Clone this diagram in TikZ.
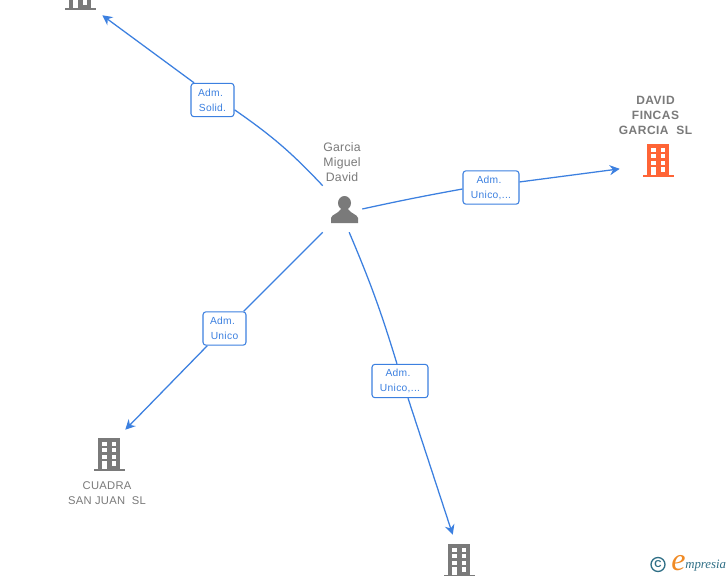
\documentclass[tikz,border=0pt]{standalone}
\usepackage{fontspec}
\setmainfont{Liberation Sans}
\newfontfamily\logofont{Liberation Serif}
\usetikzlibrary{arrows.meta}
\definecolor{linkblue}{HTML}{3C80E0}
\definecolor{namegrey}{HTML}{7A7A7A}
\definecolor{iconorange}{HTML}{FF6436}
\definecolor{logoteal}{HTML}{2F6F86}
\definecolor{logoorange}{HTML}{F08A24}
\tikzset{
	link/.style = {draw=linkblue, line width=0.95pt},
	arrowlink/.style = {link, -{Stealth[length=7.5pt,width=7.5pt,inset=2.5pt]}},
	adm/.style = {draw=linkblue, fill=white, rounded corners=2.2pt, line width=0.8pt, align=center, text=linkblue, font=\fontsize{7.7}{11.2}\selectfont\addfontfeatures{LetterSpace=3}, inner sep=0pt, minimum height=25pt},
	title/.style = {align=center, text=namegrey, font=\fontsize{9.2}{11.2}\selectfont\addfontfeatures{LetterSpace=2}, inner sep=0pt},
	spot/.style 2 args = {rectangle, minimum width=#1, minimum height=#2, inner sep=0pt}
}
% building glyph, centred on the current shift
\newcommand{\bldg}[1]{
	\fill[#1] (-11,-16) rectangle (11,15);
	\fill[#1] (-15,15) rectangle (16,17);
	\foreach \y in {-12,-6,1} {
		\fill[white] (-7,\y) rectangle (-2,\y+4);
		\fill[white] (3,\y) rectangle (7,\y+4);
	}
	\fill[white] (-7,7) rectangle (-2,15);
	\fill[white] (3,7) rectangle (7,12);
}
\begin{document}
\begin{tikzpicture}[x=0.75pt,y=-0.75pt]
	\clip (0,0) rectangle (728,575);
	\fill[white] (0,0) rectangle (728,575);

	% nodes
	\node[spot={29.25pt}{34.5pt}] (garcia) at (342.5,209) {};
	\node[spot={33pt}{33pt}] (top) at (80,-7) {};
	\node[spot={57pt}{33pt}] (fincas) at (658,160) {};
	\node[spot={24pt}{36pt}] (cuadra) at (109,454) {};
	\node[spot={9pt}{37.5pt}] (bottom) at (459,560) {};

	% icons
	\begin{scope}[shift={(top.center)}] \bldg{namegrey} \end{scope}
	\begin{scope}[shift={(fincas.center)}] \bldg{iconorange} \end{scope}
	\begin{scope}[shift={(cuadra.center)}] \bldg{namegrey} \end{scope}
	\begin{scope}[shift={(bottom.center)}] \bldg{namegrey} \end{scope}
	\fill[namegrey] (344.5,203) ellipse (6.5 and 7);
	\fill[namegrey] (331,223) -- (331,218) .. controls (332,214) and (338,214) .. (341,209)
		-- (348,209) .. controls (351,214) and (357,214) .. (358,218) -- (358,223) -- cycle;

	% texts
	\node[title] (garcianame) at (342,162) {Garcia\\Miguel\\David};
	\node[title,font=\fontsize{9}{11.2}\bfseries\selectfont\addfontfeatures{LetterSpace=4}] (fincasname) at (655.5,115) {DAVID\\FINCAS\\GARCIA\ \ SL};
	\node[title,font=\fontsize{8.4}{11.2}\selectfont\addfontfeatures{LetterSpace=2.5}] (cuadraname) at (107,493) {CUADRA\\SAN JUAN\ \ SL};

	% relation boxes
	\node[adm,minimum width=32.25pt] (admsolid) at (212.5,100) {Adm.\kern3pt\\Solid.};
	\node[adm,minimum width=42pt] (admfincas) at (491,187.5) {Adm.\kern3pt\\Unico,...};
	\node[adm,minimum width=32.25pt] (admcuadra) at (224.5,328.5) {Adm.\kern3pt\\Unico};
	\node[adm,minimum width=42pt] (admbottom) at (400,381) {Adm.\kern3pt\\Unico,...};

	% edges
	\draw[link] (garcia.north west) to[bend right=6] (admsolid.-24);
	\draw[arrowlink] (admsolid.137) -- (top.south east);
	\draw[link] (garcia.east) to[bend left=1] (admfincas.183);
	\draw[arrowlink] (admfincas.11) -- (fincas.193);
	\draw[link] (garcia.south west) -- (admcuadra.42);
	\draw[arrowlink] (admcuadra.225) -- (cuadra.north east);
	\draw[link] (garcia.286) to[bend left=3] (admbottom.100);
	\draw[arrowlink] (admbottom.-65) -- (bottom.north west);

	% logo
	\node[draw=logoteal, circle, line width=1pt, minimum size=10.5pt, inner sep=0pt, text=logoteal, font=\fontsize{7.5}{7.5}\bfseries\selectfont] (copyr) at (658,564.5) {C};
	\node[anchor=base west, inner sep=0pt, text=logoorange, font=\logofont\itshape\fontsize{24}{24}\selectfont] (logoe) at (671,570) {e};
	\node[anchor=base west, inner sep=0pt, text=logoteal, font=\logofont\itshape\fontsize{9.6}{10}\selectfont] (logotext) at (685,568) {mpresia};
\end{tikzpicture}
\end{document}
